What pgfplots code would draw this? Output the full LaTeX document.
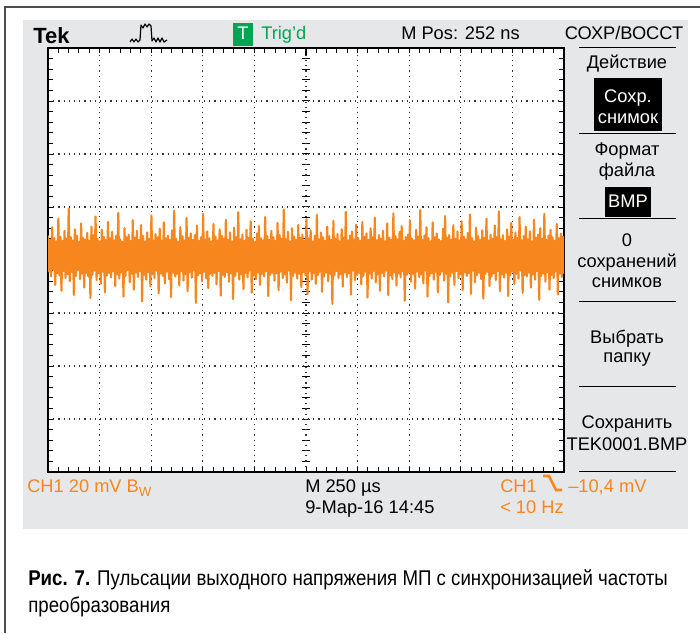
\documentclass[border=0pt]{standalone}
\usepackage{pgfplots}
\pgfplotsset{compat=1.18}
\usepackage{pgfplotstable}
\usepackage{fontspec}
\setmainfont{Liberation Sans}
\newfontfamily\capfont[FakeStretch=0.875]{Liberation Sans}
\definecolor{osc}{HTML}{F7861E}
\definecolor{panel}{HTML}{E6E7E8}
\definecolor{tekgreen}{HTML}{00A651}
\definecolor{framec}{HTML}{4D4D4D}

% trace: max and min of each screen column in turn, in divisions (20 mV/div)
\pgfplotstableread[row sep=\\]{
v\\
0.45\\-0.22\\0.38\\-0.31\\0.62\\-0.18\\0.41\\-0.47\\0.35\\-0.25\\0.78\\-0.29\\0.44\\-0.58\\0.36\\-0.21\\0.55\\-0.34\\0.40\\-0.27\\
0.97\\-0.40\\0.43\\-0.23\\0.37\\-0.66\\0.58\\-0.30\\0.46\\-0.19\\0.34\\-0.36\\0.69\\-0.26\\0.42\\-0.52\\0.39\\-0.24\\0.51\\-0.31\\
0.36\\-0.72\\0.63\\-0.28\\0.47\\-0.20\\0.82\\-0.38\\0.40\\-0.25\\0.35\\-0.45\\0.57\\-0.22\\0.44\\-0.61\\0.38\\-0.29\\0.72\\-0.24\\
0.41\\-0.33\\0.53\\-0.21\\0.37\\-0.49\\0.46\\-0.27\\0.89\\-0.35\\0.39\\-0.23\\0.34\\-0.69\\0.60\\-0.30\\0.43\\-0.19\\0.48\\-0.42\\
0.36\\-0.26\\0.75\\-0.56\\0.42\\-0.24\\0.55\\-0.32\\0.38\\-0.21\\0.66\\-0.78\\0.45\\-0.28\\0.35\\-0.37\\0.52\\-0.23\\0.40\\-0.50\\
0.84\\-0.27\\0.37\\-0.34\\0.49\\-0.20\\0.43\\-0.63\\0.59\\-0.25\\0.36\\-0.30\\0.71\\-0.44\\0.41\\-0.22\\0.46\\-0.36\\0.38\\-0.70\\
0.56\\-0.24\\0.93\\-0.31\\0.40\\-0.26\\0.34\\-0.48\\0.62\\-0.21\\0.45\\-0.39\\0.37\\-0.27\\0.79\\-0.59\\0.42\\-0.23\\0.50\\-0.33\\
0.38\\-0.20\\0.47\\-0.81\\0.65\\-0.29\\0.36\\-0.25\\0.43\\-0.40\\0.87\\-0.22\\0.39\\-0.35\\0.54\\-0.53\\0.41\\-0.26\\0.35\\-0.30\\
0.68\\-0.24\\0.44\\-0.46\\0.37\\-0.21\\0.58\\-0.67\\0.46\\-0.28\\0.40\\-0.32\\0.76\\-0.23\\0.38\\-0.41\\0.52\\-0.25\\0.35\\-0.74\\
0.61\\-0.30\\0.43\\-0.22\\0.90\\-0.37\\0.39\\-0.27\\0.48\\-0.55\\0.36\\-0.24\\0.57\\-0.33\\0.42\\-0.20\\0.73\\-0.62\\0.40\\-0.29\\
0.34\\-0.36\\0.50\\-0.23\\0.64\\-0.47\\0.41\\-0.26\\0.37\\-0.31\\0.81\\-0.21\\0.45\\-0.68\\0.38\\-0.28\\0.55\\-0.24\\0.43\\-0.39\\
0.36\\-0.25\\0.70\\-0.57\\0.47\\-0.22\\0.40\\-0.34\\0.95\\-0.27\\0.39\\-0.43\\0.53\\-0.20\\0.35\\-0.76\\0.60\\-0.30\\0.44\\-0.24\\
0.38\\-0.35\\0.66\\-0.26\\0.42\\-0.51\\0.48\\-0.23\\0.37\\-0.29\\0.77\\-0.64\\0.41\\-0.21\\0.56\\-0.37\\0.35\\-0.25\\0.46\\-0.45\\
0.85\\-0.28\\0.39\\-0.22\\0.52\\-0.60\\0.43\\-0.31\\0.36\\-0.24\\0.63\\-0.40\\0.45\\-0.26\\0.38\\-0.83\\0.74\\-0.29\\0.40\\-0.21\\
0.49\\-0.34\\0.35\\-0.27\\0.58\\-0.50\\0.42\\-0.23\\0.91\\-0.32\\0.37\\-0.25\\0.46\\-0.65\\0.54\\-0.20\\0.39\\-0.38\\0.67\\-0.28\\
0.41\\-0.24\\0.36\\-0.46\\0.72\\-0.30\\0.44\\-0.22\\0.50\\-0.71\\0.38\\-0.26\\0.60\\-0.35\\0.43\\-0.21\\0.80\\-0.42\\0.37\\-0.27\\
0.47\\-0.58\\0.40\\-0.24\\0.55\\-0.31\\0.35\\-0.20\\0.69\\-0.66\\0.42\\-0.29\\0.38\\-0.36\\0.88\\-0.23\\0.45\\-0.48\\0.39\\-0.25\\
0.53\\-0.33\\0.64\\-0.21\\0.36\\-0.77\\0.43\\-0.28\\0.48\\-0.24\\0.75\\-0.41\\0.40\\-0.26\\0.37\\-0.54\\0.57\\-0.22\\0.44\\-0.32\\
0.94\\-0.27\\0.38\\-0.44\\0.46\\-0.20\\0.62\\-0.69\\0.41\\-0.30\\0.35\\-0.25\\0.71\\-0.37\\0.43\\-0.23\\0.50\\-0.61\\0.39\\-0.28\\
0.36\\-0.22\\0.59\\-0.39\\0.83\\-0.26\\0.42\\-0.80\\0.47\\-0.31\\0.38\\-0.24\\0.66\\-0.47\\0.40\\-0.21\\0.54\\-0.34\\0.37\\-0.27\\
0.73\\-0.57\\0.44\\-0.23\\0.39\\-0.30\\0.51\\-0.25\\0.86\\-0.64\\0.41\\-0.20\\0.35\\-0.42\\0.61\\-0.28\\0.45\\-0.24\\0.38\\-0.36\\
0.56\\-0.73\\0.42\\-0.26\\0.78\\-0.22\\0.37\\-0.49\\0.48\\-0.31\\0.40\\-0.25\\0.65\\-0.38\\0.43\\-0.21\\0.92\\-0.59\\0.39\\-0.27\\
0.47\\-0.33\\0.36\\-0.24\\0.58\\-0.68\\0.44\\-0.29\\0.70\\-0.22\\0.38\\-0.45\\0.52\\-0.26\\0.41\\-0.35\\0.81\\-0.20\\0.37\\-0.62\\
0.45\\-0.28\\0.63\\-0.31\\0.39\\-0.24\\0.54\\-0.52\\0.35\\-0.27\\0.76\\-0.37\\0.42\\-0.21\\0.48\\-0.75\\0.60\\-0.30\\0.40\\-0.25\\
0.87\\-0.41\\0.38\\-0.23\\0.46\\-0.56\\0.57\\-0.28\\0.43\\-0.34\\0.36\\-0.22\\0.68\\-0.65\\0.41\\-0.26\\0.50\\-0.32\\0.44\\-0.24\\
}\trace

\begin{document}
\begin{tikzpicture}
% pixel frame: (x,y) in px, y down
\begin{scope}[x=0.75pt,y=-0.75pt,shift={(0pt,474.75pt)}]
  \fill[white] (0,0) rectangle (700,633);
  \draw[framec,line width=1.5pt] (5,633) -- (5,7) -- (700,7);
  \fill[panel] (23,20) rectangle (688,529);
  \fill[white] (48,48) rectangle (564,472);
  % centre cross ticks
  \foreach \i in {0,...,40} \draw[black,line width=0.75pt] ({48+\i*12.9},256) -- ({48+\i*12.9},264);
  \foreach \i in {0,...,40} \draw[black,line width=0.75pt] (302,{48+\i*10.6}) -- (310,{48+\i*10.6});
  % trigger position marker
  \draw[black,line width=1pt] (306,48) -- (306,56);
\end{scope}

\begin{axis}[
  at={(36pt,120.75pt)}, anchor=south west,
  scale only axis, width=387pt, height=318pt,
  xmin=0, xmax=10, ymin=-4, ymax=4,
  xtick={0,...,10}, ytick={-4,...,4},
  minor x tick num=4, minor y tick num=4,
  xticklabels={}, yticklabels={},
  tick align=inside,
  major tick length=3.75pt, minor tick length=3.75pt,
  tick style={black,line width=0.75pt},
  axis line style={black,line width=1.1pt},
  grid=major,
  major grid style={black!80,line width=0.9pt,dash pattern=on 0.9pt off 3pt},
  clip=true]
  \addplot[osc,line width=1.6pt,line join=round,line cap=round,mark=none]
    table[x expr=\coordindex/49.9,y=v] {\trace};
\end{axis}

\begin{scope}[x=0.75pt,y=-0.75pt,shift={(0pt,474.75pt)},
  every node/.style={inner sep=0pt,font=\fontsize{13.7}{16}\selectfont}]
  % top bar
  \node[anchor=base west,font=\fontsize{16.5}{18}\selectfont\bfseries] at (33,44) {Tek};
  \draw[black,line width=0.9pt,line join=round]
    (130,42) -- (132,39) -- (134,42) -- (136,39) -- (138,42) -- (140,40) -- (141,25)
    -- (143,28) -- (145,24) -- (147,27) -- (149,24) -- (151,26) -- (152,41)
    -- (154,38) -- (156,42) -- (158,38) -- (160,42) -- (162,38) -- (164,42) -- (167,40);
  \fill[tekgreen] (233,23) rectangle (253,46);
  \node[anchor=base,text=white] at (243,40) {T};
  \node[anchor=base west,text=tekgreen] at (261,40) {Trig’d};
  \node[anchor=base west] at (401,40) {M Pos: 252 ns};
  \node[anchor=base] at (624,40) {СОХР/ВОССТ};
  % menu
  \foreach \yy in {48,134,219,302,386,471} \draw[black,line width=0.75pt] (579,\yy) -- (676,\yy);
  \node[anchor=base] at (627,69) {Действие};
  \fill[black] (594,78) rectangle (662,131);
  \node[anchor=base,text=white] at (628,103) {Сохр.};
  \node[anchor=base,text=white] at (628,124) {снимок};
  \node[anchor=base] at (627,156) {Формат};
  \node[anchor=base] at (627,177) {файла};
  \fill[black] (605,187) rectangle (651,217);
  \node[anchor=base,text=white] at (628,208) {BMP};
  \node[anchor=base] at (627,247) {0};
  \node[anchor=base] at (627,268) {сохранений};
  \node[anchor=base] at (627,288) {снимков};
  \node[anchor=base] at (627,343) {Выбрать};
  \node[anchor=base] at (627,362) {папку};
  \node[anchor=base] at (627,428) {Сохранить};
  \node[anchor=base] at (627,450) {TEK0001.BMP};
  % bottom bar
  \node[anchor=base west,text=osc] at (27,492) {CH1 20 mV B\raisebox{-0.25em}{\fontsize{10}{12}\selectfont W}};
  \node[anchor=base west] at (305,492) {M 250 µs};
  \node[anchor=base west] at (305,513) {9-Мар-16 14:45};
  \node[anchor=base west,text=osc] at (500,492) {CH1};
  \draw[osc,line width=1.9pt] (543,476) -- (549,476) -- (556,490) -- (562,490);
  \node[anchor=base west,text=osc] at (568,492) {–10,4 mV};
  \node[anchor=base west,text=osc] at (500,513) {< 10 Hz};
  % caption
  \node[anchor=base west,font=\capfont\fontsize{16}{19}\selectfont] at (28,585)
    {{\bfseries Рис. 7.} Пульсации выходного напряжения МП с синхронизацией частоты};
  \node[anchor=base west,font=\capfont\fontsize{16}{19}\selectfont] at (28,612)
    {преобразования};
\end{scope}
\pgfresetboundingbox
\useasboundingbox (0,0) rectangle (525pt,474.75pt);
\end{tikzpicture}
\end{document}
